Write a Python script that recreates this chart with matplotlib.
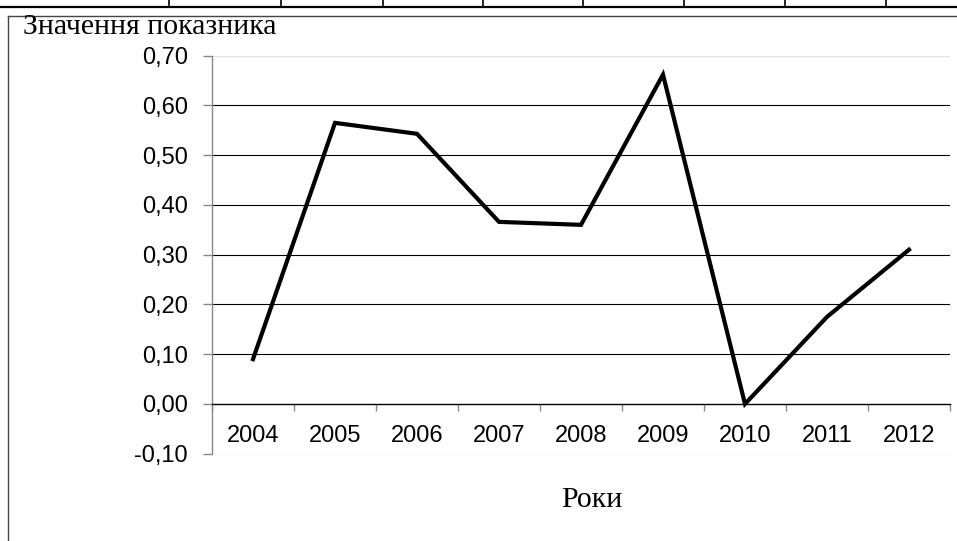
import numpy as np
import matplotlib
matplotlib.use("Agg")
import matplotlib.pyplot as plt
from matplotlib.lines import Line2D

# data
years = ["2004", "2005", "2006", "2007", "2008", "2009", "2010", "2011", "2012"]
values = [0.09, 0.565, 0.543, 0.366, 0.360, 0.662, 0.0, 0.175, 0.31]
yticks = [-0.10, 0.0, 0.10, 0.20, 0.30, 0.40, 0.50, 0.60, 0.70]

W, H = 957, 541
fig = plt.figure(figsize=(W / 100, H / 100), dpi=100)

def fx(px):
    return px / W

def fy(py):
    return 1 - py / H

# page table remnants at the top and the frame around the chart
fig.add_artist(Line2D([0, 1], [fy(6.5), fy(6.5)], color="black", lw=1.6))
for px in [169, 281, 383, 483, 583, 684, 785, 886]:
    fig.add_artist(Line2D([fx(px), fx(px)], [1, fy(6)], color="black", lw=1.2))
fig.add_artist(Line2D([fx(8), 1], [fy(16), fy(16)], color="#444444", lw=1.0))
fig.add_artist(Line2D([fx(8), fx(8)], [fy(16), 0], color="#444444", lw=1.0))

ax = fig.add_axes([fx(212), fy(453.7), fx(950) - fx(212), fy(55.7) - fy(453.7)])

x = np.arange(len(years)) + 0.5
ax.plot(x, values, color="black", lw=3.0, solid_joinstyle="miter", zorder=5)

ax.set_xlim(0, len(years))
ax.set_ylim(-0.10, 0.70)

# gridlines
for v in yticks:
    if v in (-0.10, 0.70):
        ax.axhline(v, color="#e3e3e3", lw=1.0, zorder=1)
    elif v != 0.0:
        ax.axhline(v, color="black", lw=0.8, zorder=1)

ax.spines["top"].set_visible(False)
ax.spines["right"].set_visible(False)
ax.spines["left"].set_color("#888888")
ax.spines["left"].set_linewidth(1.0)
ax.spines["bottom"].set_position(("data", 0))
ax.spines["bottom"].set_color("black")
ax.spines["bottom"].set_linewidth(1.0)

ax.set_yticks(yticks)
ax.set_yticklabels([f"{v:.2f}".replace(".", ",") for v in yticks],
                   family="Liberation Sans", fontsize=17)
ax.tick_params(axis="y", direction="out", length=6.5, width=1.0,
               color="#888888", pad=11)

ax.set_xticks(np.arange(len(years) + 1))
ax.set_xticklabels([])
ax.tick_params(axis="x", which="major", direction="out", length=5,
               width=1.0, color="#888888")
ax.set_xticks(x, minor=True)
ax.set_xticklabels(years, minor=True, family="Liberation Sans", fontsize=17)
ax.tick_params(axis="x", which="minor", length=0, pad=15)

fig.text(fx(23), fy(34), "Значення показника", family="Liberation Serif",
         fontsize=21.5, ha="left", va="baseline")
fig.text(fx(592), fy(500), "Роки", family="Liberation Serif",
         fontsize=21.5, ha="center", va="center")

fig.savefig("out.png", dpi=100)
